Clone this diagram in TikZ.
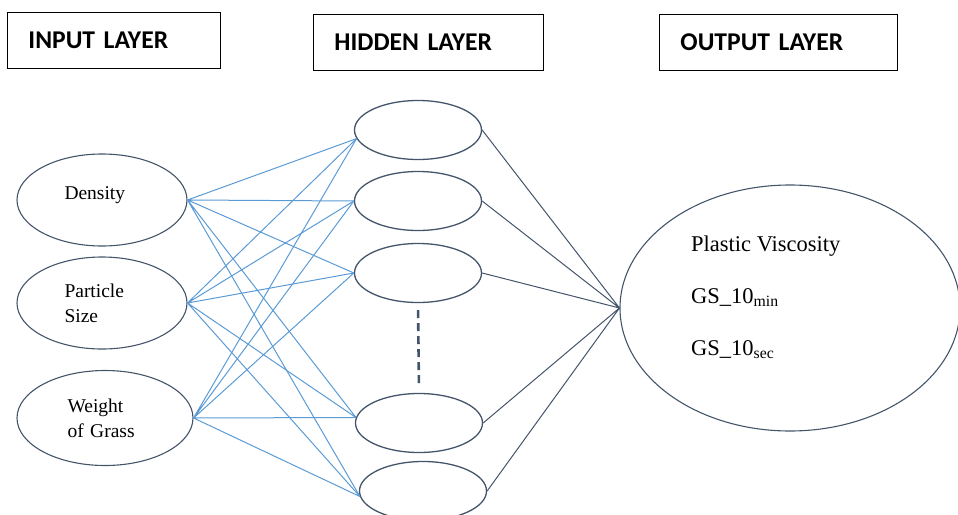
\documentclass[tikz,border=0pt]{standalone}
\usepackage{fontspec}
\setmainfont{Liberation Serif}
\newfontfamily\headfont{Carlito}
\usetikzlibrary{shapes.geometric}
\definecolor{netblue}{HTML}{5B9BD5}
\definecolor{slate}{HTML}{44546A}

\begin{document}
\begin{tikzpicture}[x=1pt,y=-1pt]
\tikzstyle{layer}=[rectangle,draw=black,line width=0.9pt,inner xsep=21pt,minimum height=56pt,align=left,anchor=north west,font=\headfont\bfseries\fontsize{25.6}{30}\selectfont]
\tikzstyle{inp}=[ellipse,draw=slate,line width=1.1pt,minimum width=170pt,minimum height=92pt,inner sep=0pt,text width=75pt,align=left,font=\fontsize{19.5}{25}\selectfont]
\tikzstyle{hid}=[ellipse,draw=slate,line width=1.3pt,minimum width=127pt,minimum height=59pt,inner sep=0pt]
\tikzstyle{wire}=[netblue,line width=1pt]
\tikzstyle{link}=[slate,line width=1pt]
\useasboundingbox (0,0) rectangle (958,514);

% layer titles
\node[layer,text width=171pt] (inlayer) at (7,12) {INPUT LAYER};
\node[layer,text width=188pt] (hidlayer) at (313,14) {HIDDEN LAYER};
\node[layer,text width=196pt] (outlayer) at (659,14) {OUTPUT LAYER};

% input neurons
\node[inp,text depth=14pt] (density) at (102,200) {Density};
\node[inp] (psize) at (102,303) {Particle\\Size};
\node[inp,minimum width=176pt,minimum height=95pt] (weight) at (105,418) {Weight\\of Grass};

% hidden neurons
\node[hid] (h1) at (418,130) {};
\node[hid] (h2) at (418,201) {};
\node[hid] (h3) at (418,273) {};
\node[hid] (h4) at (419,423) {};
\node[hid] (h5) at (423,491) {};
\draw[slate,line width=2.6pt,dash pattern=on 8pt off 5pt,shorten <=7pt,shorten >=6pt] (h3.south) -- (h4.north);

% output neuron
\node[ellipse,draw=slate,line width=1.1pt,minimum width=340pt,minimum height=246pt,inner sep=0pt] (out) at (790,308) {};
\node[anchor=west,align=left,inner sep=0pt,font=\fontsize{22.5}{52}\selectfont] (outtext) at (691,297) {Plastic Viscosity\\GS\_10\textsubscript{min}\\GS\_10\textsubscript{sec}};

% input -> hidden
\draw[wire] (density.east) -- (h1.188) (density.east) -- (h2.west) (density.east) -- (h3.west) (density.east) -- (h4.175) (density.east) -- (h5.185);
\draw[wire] (psize.east) -- (h1.188) (psize.east) -- (h2.west) (psize.east) -- (h3.west) (psize.east) -- (h4.175) (psize.east) -- (h5.185);
\draw[wire] (weight.east) -- (h1.188) (weight.east) -- (h2.west) (weight.east) -- (h3.west) (weight.east) -- (h4.175) (weight.east) -- (h5.185);

% hidden -> output
\draw[link] (h1.east) -- (out.west) (h2.east) -- (out.west) (h3.east) -- (out.west) (h4.east) -- (out.west) (h5.east) -- (out.west);
\end{tikzpicture}
\end{document}
